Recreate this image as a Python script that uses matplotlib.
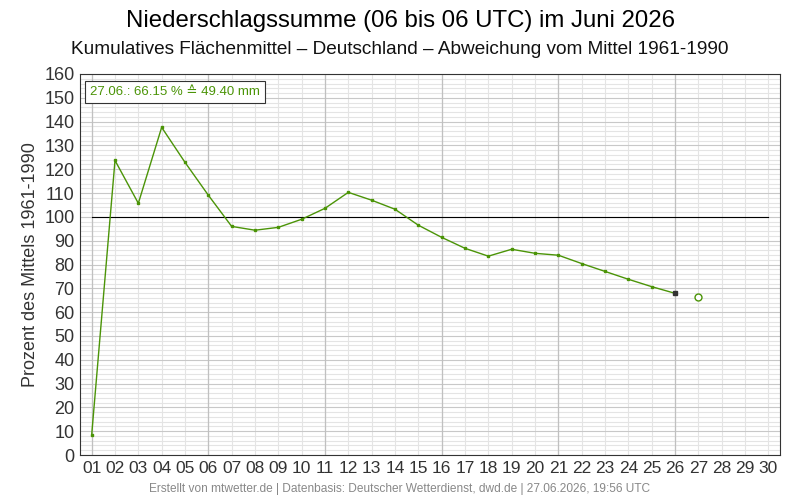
import numpy as np
import matplotlib.pyplot as plt
from matplotlib.ticker import MultipleLocator

plt.rcParams['font.family'] = ['Liberation Sans', 'DejaVu Sans']

days = list(range(1, 27))
percent = [8.4, 123.7, 105.7, 137.6, 122.9, 109.1, 96.0, 94.4, 95.6, 99.0,
           103.6, 110.3, 107.0, 103.2, 96.5, 91.4, 86.8, 83.5, 86.4, 84.7,
           83.9, 80.4, 77.1, 73.8, 70.7, 67.9]
today_day = 27
today_value = 66.15
today_mm = 49.40
day_labels = [f"{d:02d}" for d in range(1, 31)]

green = '#4b9407'

fig = plt.figure(figsize=(8, 5), dpi=100)
ax = fig.add_axes([0.1, 0.09, 0.875, 0.762])

ax.plot(days, percent, color=green, lw=1, marker='s', ms=1.6, zorder=3)
ax.plot(days[-1], percent[-1], marker='s', ms=2.4, color='#333333', zorder=4)
ax.plot(today_day, today_value, marker='o', ms=5, mfc='white', mec=green,
        mew=1, zorder=4)
ax.plot([1, 30], [100, 100], color='black', lw=0.8, zorder=2)

ax.set_xlim(0.5, 30.5)
ax.set_ylim(0, 160)
ax.set_xticks(range(1, 31))
ax.set_xticklabels(day_labels)
ax.xaxis.set_minor_locator(MultipleLocator(1))
ax.yaxis.set_major_locator(MultipleLocator(10))
ax.yaxis.set_minor_locator(MultipleLocator(2))

ax.grid(which='minor', color='#e4e4e4', lw=0.8, zorder=0)
ax.grid(which='major', axis='y', color='#c8c8c8', lw=0.8, zorder=0)
ax.grid(which='major', axis='x', color='#e4e4e4', lw=0.8, zorder=0)
for d in range(1, 31, 5):
    ax.axvline(d, color='#c0c0c0', lw=0.9, zorder=1)
ax.set_axisbelow(True)

for s in ax.spines.values():
    s.set_color('#333333')
    s.set_linewidth(0.8)
ax.tick_params(which='both', length=0, labelsize=12.5, colors='#333333', pad=4)
ax.tick_params(axis='y', labelsize=13)

ax.set_ylabel('Prozent des Mittels 1961-1990', fontsize=13, color='#333333')

ax.text(0.014, 0.968, f"27.06.: {today_value:.2f} % \u2259 {today_mm:.2f} mm",
        transform=ax.transAxes, ha='left', va='top', fontsize=9.5, color=green,
        bbox=dict(boxstyle='square,pad=0.4', fc='white', ec='#333333', lw=0.8),
        zorder=5)

fig.text(0.5, 0.958, 'Niederschlagssumme (06 bis 06 UTC) im Juni 2026',
         ha='center', va='center', fontsize=17.3, color='black')
fig.text(0.5, 0.9, 'Kumulatives Flächenmittel – Deutschland – Abweichung vom Mittel 1961-1990',
         ha='center', va='center', fontsize=13.7, color='#111111')
fig.text(0.5, 0.022, 'Erstellt von mtwetter.de | Datenbasis: Deutscher Wetterdienst, dwd.de | 27.06.2026, 19:56 UTC',
         ha='center', va='center', fontsize=8.6, color='#888888')

fig.savefig('out.png', dpi=100)
